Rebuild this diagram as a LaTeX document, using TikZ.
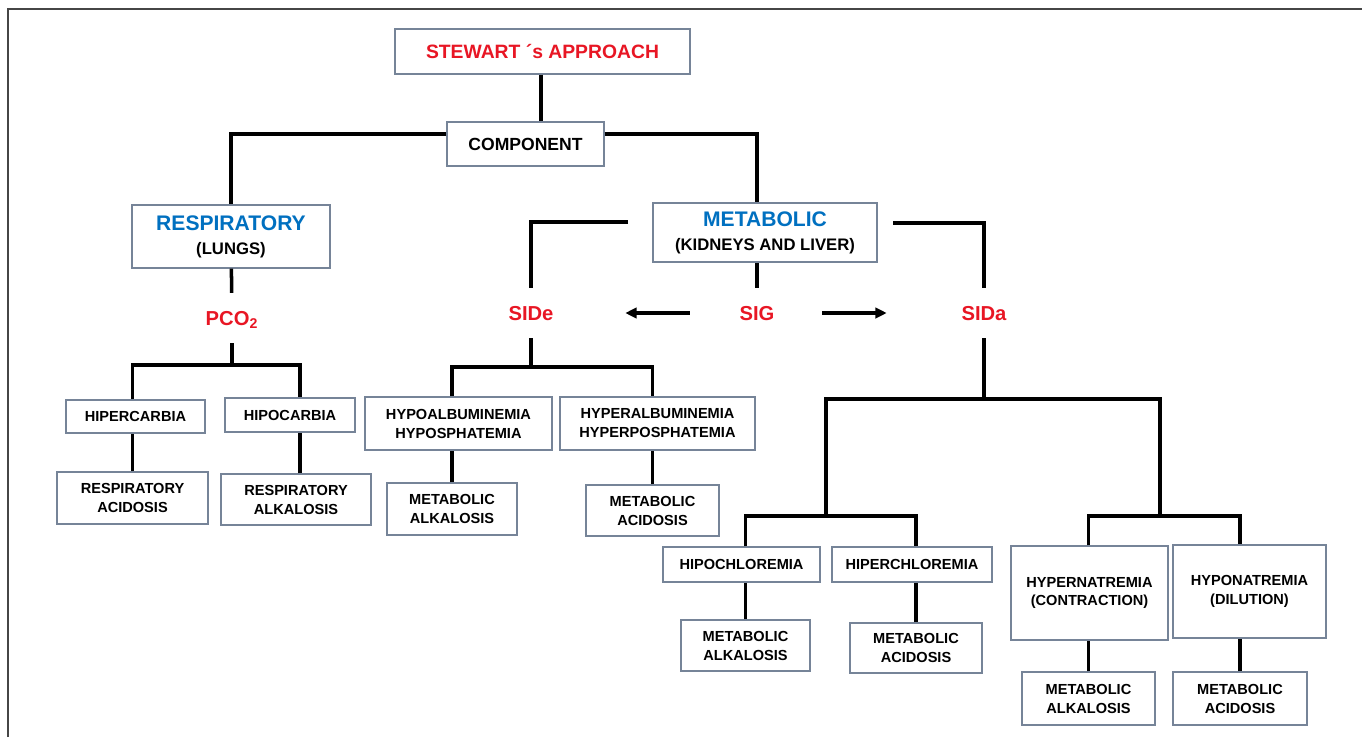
\documentclass[tikz,border=0pt]{standalone}
\usepackage{fontspec}
\setmainfont{Liberation Sans}
\usetikzlibrary{arrows.meta}

\definecolor{boxline}{RGB}{118,132,152}
\definecolor{hired}{RGB}{232,22,36}
\definecolor{hiblue}{RGB}{0,112,192}
\definecolor{framegray}{RGB}{70,70,70}

\begin{document}
\begin{tikzpicture}[x=0.02cm,y=-0.02cm,
    box/.style={draw=boxline,line width=0.8pt,fill=white,align=center,inner sep=1pt,
      font=\bfseries\fontsize{8.3}{10.8}\selectfont},
    lbl/.style={text=hired,inner sep=0.35cm,text height=8.3pt,text depth=0pt,
      font=\bfseries\fontsize{11.5}{13}\selectfont},
    conn/.style={line width=2pt},
    >={Triangle[length=6.5pt,width=6pt]}]

    \useasboundingbox (0,0) rectangle (1362,737);
    \draw[framegray,line width=1pt] (8,737) -- (8,9) -- (1362,9);

    % top of the tree
    \node[box,minimum width=5.9cm,minimum height=0.9cm,font=\bfseries\fontsize{11}{13}\selectfont,text=hired]
        (stewart) at (542.5,51.5) {STEWART ´s APPROACH};
    \node[box,minimum width=3.14cm,minimum height=0.88cm,font=\bfseries\fontsize{10}{12}\selectfont]
        (comp) at (525.5,144) {COMPONENT};
    \node[box,minimum width=3.96cm,minimum height=1.26cm] (resp) at (231,236.5)
        {{\color{hiblue}\fontsize{12}{14}\selectfont RESPIRATORY}\\[3pt]{\fontsize{9.5}{11}\selectfont (LUNGS)}};
    \node[box,minimum width=4.48cm,minimum height=1.18cm] (metab) at (765,232.5)
        {{\color{hiblue}\fontsize{12}{14}\selectfont METABOLIC}\\[3pt]{\fontsize{9.5}{11}\selectfont (KIDNEYS AND LIVER)}};

    % red variables
    \node[lbl] (pco)  at (232,318) {PCO\textsubscript{2}};
    \node[lbl] (side) at (531,313) {SIDe};
    \node[lbl] (sig)  at (757,313) {SIG};
    \node[lbl] (sida) at (984,313) {SIDa};

    % respiratory side
    \node[box,minimum width=2.78cm,minimum height=0.66cm] (hiper) at (135.5,416.5) {HIPERCARBIA};
    \node[box,minimum width=2.6cm,minimum height=0.68cm] (hipo) at (290,415) {HIPOCARBIA};
    \node[box,minimum width=3.02cm,minimum height=1.04cm] (racid) at (132.5,498) {RESPIRATORY\\ACIDOSIS};
    \node[box,minimum width=3.0cm,minimum height=1.02cm] (ralk) at (296,499.5) {RESPIRATORY\\ALKALOSIS};

    % SIDe side
    \node[box,minimum width=3.74cm,minimum height=1.06cm] (hypoalb) at (458.5,423.5) {HYPOALBUMINEMIA\\HYPOSPHATEMIA};
    \node[box,minimum width=3.9cm,minimum height=1.06cm] (hyperalb) at (657.5,423.5) {HYPERALBUMINEMIA\\HYPERPOSPHATEMIA};
    \node[box,minimum width=2.6cm,minimum height=1.04cm] (malka) at (452,509) {METABOLIC\\ALKALOSIS};
    \node[box,minimum width=2.66cm,minimum height=1.02cm] (macida) at (652.5,510.5) {METABOLIC\\ACIDOSIS};

    % SIDa side
    \node[box,minimum width=3.14cm,minimum height=0.7cm] (hipocl) at (741.5,564.5) {HIPOCHLOREMIA};
    \node[box,minimum width=3.2cm,minimum height=0.7cm] (hipercl) at (912,564.5) {HIPERCHLOREMIA};
    \node[box,minimum width=2.58cm,minimum height=1.02cm] (malkb) at (745.5,645.5) {METABOLIC\\ALKALOSIS};
    \node[box,minimum width=2.64cm,minimum height=1.0cm] (macidb) at (916,648) {METABOLIC\\ACIDOSIS};
    \node[box,minimum width=3.14cm,minimum height=1.88cm] (hypernat) at (1089.5,593) {HYPERNATREMIA\\(CONTRACTION)};
    \node[box,minimum width=3.06cm,minimum height=1.86cm] (hyponat) at (1249.5,591.5) {HYPONATREMIA\\(DILUTION)};
    \node[box,minimum width=2.66cm,minimum height=1.06cm] (malkc) at (1088.5,698.5) {METABOLIC\\ALKALOSIS};
    \node[box,minimum width=2.68cm,minimum height=1.06cm] (macidc) at (1240,698.5) {METABOLIC\\ACIDOSIS};

    % junctions
    \coordinate (pcoj) at (232,365);
    \coordinate (sidej) at (531,367);
    \coordinate (mleft) at (628,222);
    \coordinate (mright) at (893,223);
    \coordinate (sidaj) at (984,399);
    \coordinate (clj) at (826,516);
    \coordinate (crj) at (1160,516);

    % connectors
    \draw[conn] ([xshift=-0.03cm]stewart.south) -- ([xshift=-0.03cm]stewart.south |- comp.north);
    \draw[conn] ([yshift=0.2cm]comp.west) -| (resp.north);
    \draw[conn] ([yshift=0.2cm]comp.east) -| ([xshift=-0.16cm]metab.north);
    \draw[conn] (resp) -- (pco);
    \draw[conn] (pco) -- (pcoj);
    \draw[conn] (racid.north |- hiper.north) |- (pcoj) -| ([xshift=0.08cm]ralk.north |- hipo.north);
    \draw[conn] (racid.north) -- (racid.north |- hiper.south);
    \draw[conn] ([xshift=0.08cm]ralk.north) -- ([xshift=0.08cm]ralk.north |- hipo.south);

    \draw[conn] (mleft) -| (side.north);
    \draw[conn] (mright) -| (sida.north);
    \draw[conn] (sig.north) -- (sig.north |- metab.south);
    \draw[conn,->,shorten <=0.64cm,shorten >=1.08cm] (sig) -- (side);
    \draw[conn,->,shorten <=0.6cm,shorten >=1.14cm] (sig) -- (sida);

    \draw[conn] (side) -- (sidej);
    \draw[conn] (malka.north |- hypoalb.north) |- (sidej) -| (macida.north |- hyperalb.north);
    \draw[conn] (malka.north) -- (malka.north |- hypoalb.south);
    \draw[conn] (macida.north) -- (macida.north |- hyperalb.south);

    \draw[conn] (sida) -- (sidaj);
    \draw[conn] (clj) |- (sidaj) -| (crj);
    \draw[conn] (malkb.north |- hipocl.north) |- (clj) -| (macidb.north |- hipercl.north);
    \draw[conn] (malkc.north |- hypernat.north) |- (crj) -| (macidc.north |- hyponat.north);
    \draw[conn] (malkb.north) -- (malkb.north |- hipocl.south);
    \draw[conn] (macidb.north) -- (macidb.north |- hipercl.south);
    \draw[conn] (malkc.north) -- (malkc.north |- hypernat.south);
    \draw[conn] (macidc.north) -- (macidc.north |- hyponat.south);
\end{tikzpicture}
\end{document}
